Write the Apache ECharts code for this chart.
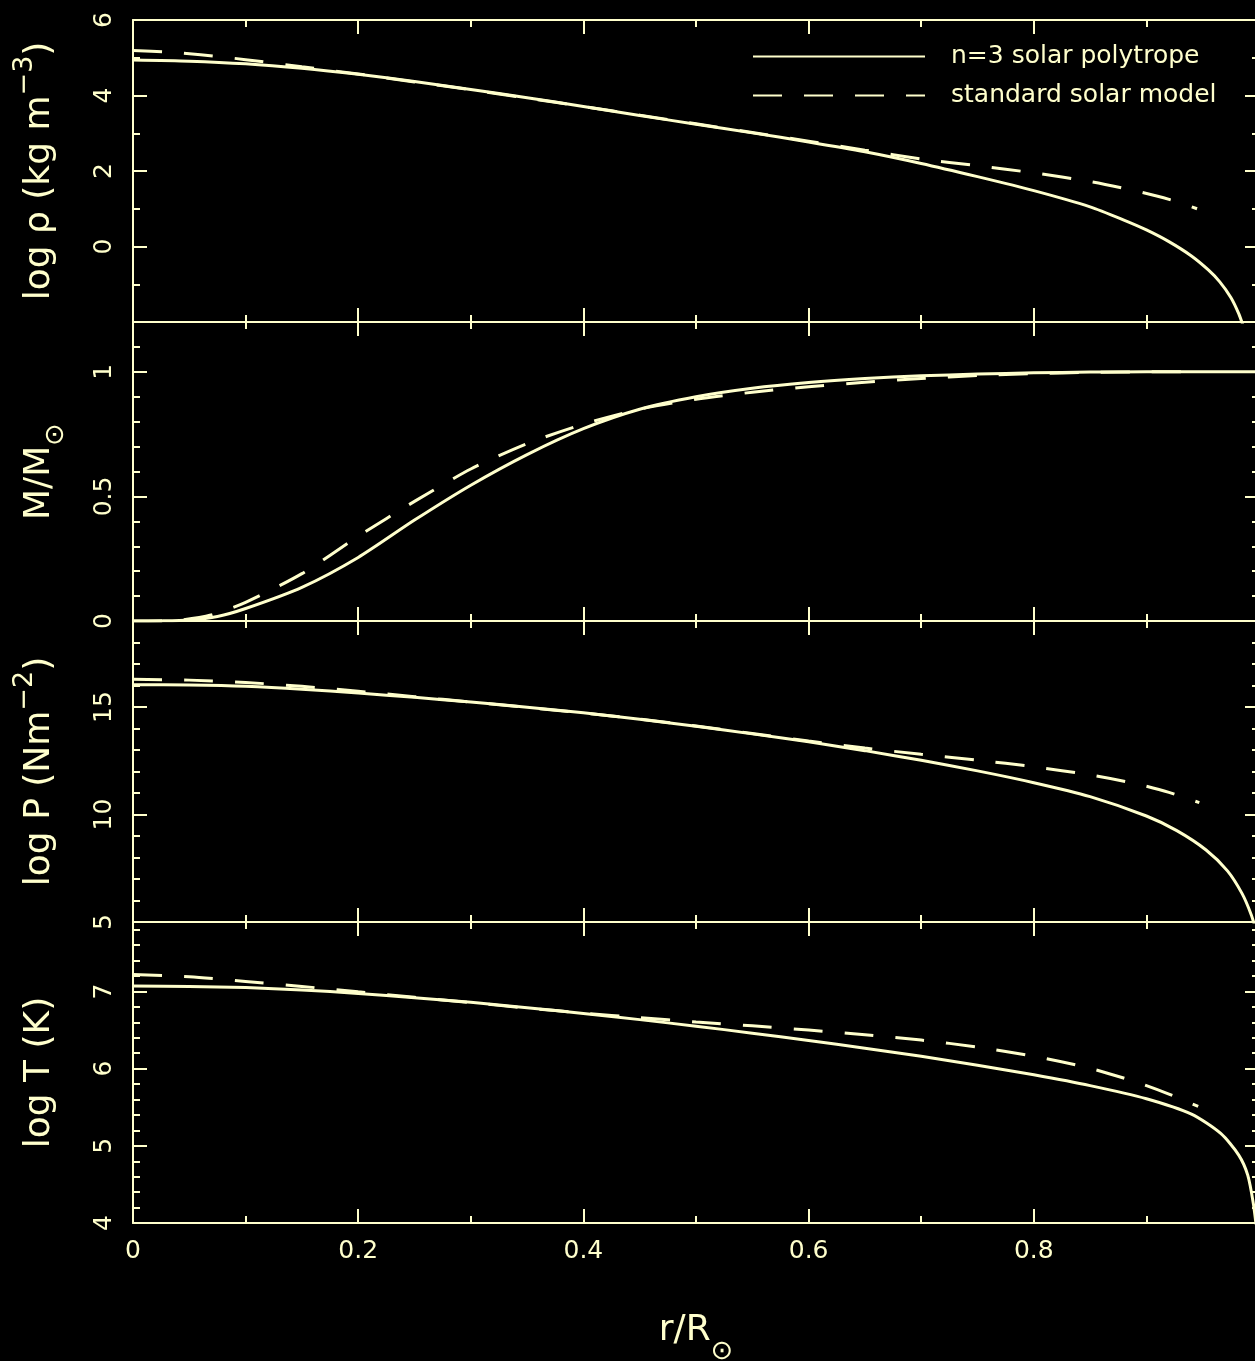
<!DOCTYPE html>
<html>
<head>
<meta charset="utf-8">
<script src="https://cdn.jsdelivr.net/npm/echarts@6/dist/echarts.min.js"></script>
<style>
html,body{margin:0;padding:0;background:#000;}
#chart{width:1255px;height:1361px;}
</style>
</head>
<body>
<div id="chart"></div>
<script>
// ---------- data ----------
const seriesNames = ['n=3 solar polytrope', 'standard solar model'];

// tick labels
const xTickLabels    = [0, 0.2, 0.4, 0.6, 0.8];
const rhoTickLabels  = [0, 2, 4, 6];
const massTickLabels = [0, 0.5, 1];
const presTickLabels = [5, 10, 15];
const tempTickLabels = [4, 5, 6, 7];

// log density (kg m^-3)
const rhoPolyR = [0, 0.05, 0.1, 0.15, 0.2, 0.25, 0.3, 0.35, 0.4, 0.45, 0.5, 0.55, 0.6, 0.65, 0.7, 0.75, 0.8, 0.85, 0.88, 0.9, 0.92, 0.94, 0.955, 0.965, 0.975, 0.982, 0.987];
const rhoPolyV = [4.94, 4.91, 4.84, 4.72, 4.56, 4.37, 4.16, 3.94, 3.71, 3.47, 3.24, 3.01, 2.77, 2.51, 2.20, 1.85, 1.48, 1.05, 0.70, 0.44, 0.13, -0.25, -0.62, -0.93, -1.35, -1.78, -2.2];
const rhoSsmR = [0, 0.03, 0.06, 0.1, 0.15, 0.2, 0.25, 0.3, 0.35, 0.4, 0.45, 0.5, 0.55, 0.6, 0.65, 0.7, 0.75, 0.8, 0.85, 0.885, 0.91, 0.93, 0.945];
const rhoSsmV = [5.19, 5.15, 5.08, 4.95, 4.76, 4.57, 4.36, 4.15, 3.93, 3.71, 3.48, 3.25, 3.02, 2.79, 2.55, 2.32, 2.14, 1.95, 1.72, 1.51, 1.33, 1.16, 1.00];

// M / Msun
const massPolyR = [0, 0.025, 0.05, 0.075, 0.1, 0.15, 0.2, 0.25, 0.3, 0.35, 0.4, 0.45, 0.5, 0.55, 0.6, 0.65, 0.7, 0.75, 0.8, 0.85, 0.9, 0.95, 1.0];
const massPolyV = [0, 0.0005, 0.004, 0.018, 0.05, 0.135, 0.255, 0.405, 0.545, 0.668, 0.772, 0.850, 0.900, 0.934, 0.957, 0.973, 0.984, 0.991, 0.996, 0.999, 1.0, 1.0, 1.0];
const massSsmR = [0, 0.04, 0.07, 0.1, 0.15, 0.2, 0.25, 0.3, 0.35, 0.4, 0.45, 0.5, 0.55, 0.6, 0.65, 0.7, 0.75, 0.8, 0.85, 0.9, 0.945];
const massSsmV = [0, 0.003, 0.025, 0.075, 0.19, 0.34, 0.48, 0.61, 0.712, 0.79, 0.85, 0.89, 0.918, 0.94, 0.958, 0.973, 0.985, 0.993, 0.998, 1.0, 1.0];

// log pressure (N m^-2)
const presPolyR = [0, 0.05, 0.1, 0.15, 0.2, 0.25, 0.3, 0.35, 0.4, 0.45, 0.5, 0.55, 0.6, 0.65, 0.7, 0.75, 0.8, 0.85, 0.9, 0.927, 0.953, 0.972, 0.985, 0.993, 0.998];
const presPolyV = [16.04, 16.02, 15.96, 15.83, 15.65, 15.45, 15.23, 14.99, 14.73, 14.43, 14.10, 13.75, 13.38, 12.97, 12.52, 12.03, 11.48, 10.83, 9.93, 9.25, 8.35, 7.38, 6.32, 5.35, 4.5];
const presSsmR = [0, 0.05, 0.1, 0.15, 0.2, 0.25, 0.3, 0.35, 0.4, 0.45, 0.5, 0.55, 0.6, 0.65, 0.7, 0.75, 0.8, 0.85, 0.89, 0.92, 0.947];
const presSsmV = [16.29, 16.25, 16.14, 15.96, 15.73, 15.48, 15.23, 14.98, 14.72, 14.44, 14.12, 13.77, 13.42, 13.09, 12.80, 12.53, 12.22, 11.84, 11.44, 11.03, 10.55];

// log temperature (K)
const tempPolyR = [0, 0.05, 0.1, 0.15, 0.2, 0.25, 0.3, 0.35, 0.4, 0.45, 0.5, 0.55, 0.6, 0.65, 0.7, 0.75, 0.8, 0.85, 0.9, 0.94, 0.966, 0.982, 0.99, 0.995, 0.998];
const tempPolyV = [7.07, 7.065, 7.05, 7.02, 6.975, 6.92, 6.86, 6.79, 6.715, 6.635, 6.55, 6.46, 6.365, 6.265, 6.16, 6.045, 5.92, 5.78, 5.61, 5.41, 5.16, 4.88, 4.62, 4.25, 3.9];
const tempSsmR = [0, 0.05, 0.1, 0.15, 0.2, 0.25, 0.3, 0.35, 0.4, 0.45, 0.5, 0.55, 0.6, 0.65, 0.7, 0.75, 0.8, 0.85, 0.89, 0.92, 0.946];
const tempSsmV = [7.22, 7.19, 7.13, 7.065, 6.995, 6.925, 6.855, 6.785, 6.72, 6.66, 6.605, 6.555, 6.50, 6.44, 6.37, 6.28, 6.16, 6.005, 5.83, 5.67, 5.51];

// ---------- styling / layout ----------
const FG = '#ffffcc';
const FONT = 'DejaVu Sans';
const pairs = (xs, ys) => xs.map((x, i) => [x, ys[i]]);

const panels = [
  { top: 20,  height: 302, min: -2, max: 6,   interval: 2,   minor: 2, labels: rhoTickLabels,
    name: '{a|log ρ (kg m}{sup|−3}{a|)}', gap: 65,
    poly: pairs(rhoPolyR, rhoPolyV), ssm: pairs(rhoSsmR, rhoSsmV) },
  { top: 322, height: 299, min: 0,  max: 1.2, interval: 0.5, minor: 5, labels: massTickLabels,
    name: '{a|M/M}{sub|⊙}', gap: 33,
    poly: pairs(massPolyR, massPolyV), ssm: pairs(massSsmR, massSsmV) },
  { top: 621, height: 301, min: 5,  max: 19,  interval: 5,   minor: 5, labels: presTickLabels,
    name: '{a|log P (Nm}{sup|−2}{a|)}', gap: 65,
    poly: pairs(presPolyR, presPolyV), ssm: pairs(presSsmR, presSsmV) },
  { top: 922, height: 301, min: 4,  max: 7.9, interval: 1,   minor: 5, labels: tempTickLabels,
    name: '{a|log T (K)}', gap: 65,
    poly: pairs(tempPolyR, tempPolyV), ssm: pairs(tempSsmR, tempSsmV) }
];

const lineCol = { color: FG, width: 2 };
const nameRich = {
  a:   { fontFamily: FONT, fontSize: 36, color: FG, height: 56, verticalAlign: 'top' },
  sup: { fontFamily: FONT, fontSize: 27, color: FG, height: 26, verticalAlign: 'top' },
  sub: { fontFamily: FONT, fontSize: 27, color: FG, height: 88, verticalAlign: 'top' }
};

const grids = [], xAxes = [], yAxes = [], series = [];
panels.forEach((p, i) => {
  grids.push({ left: 133, width: 1126, top: p.top, height: p.height, containLabel: false, outerBoundsMode: 'none' });
  const last = i === panels.length - 1;
  ['bottom', 'top'].forEach(pos => {
    const showLab = last && pos === 'bottom';
    const ax = {
      type: 'value', gridIndex: i, position: pos, min: 0, max: 1, interval: 0.2,
      axisLine: { show: true, onZero: false, lineStyle: lineCol },
      axisTick: { show: true, inside: true, length: 14, lineStyle: lineCol },
      minorTick: { show: true, splitNumber: 2, length: 7, lineStyle: lineCol },
      splitLine: { show: false }, minorSplitLine: { show: false },
      axisLabel: {
        show: showLab, color: FG, fontFamily: FONT, fontSize: 25, margin: 16,
        formatter: v => xTickLabels.some(l => Math.abs(l - v) < 1e-9) ? String(v) : ''
      }
    };
    if (showLab) {
      ax.name = '{a|r/R}{sub|⊙}';
      ax.nameLocation = 'middle';
      ax.nameGap = 88;
      ax.nameTextStyle = {
        color: FG, fontFamily: FONT, fontSize: 36,
        rich: {
          a:   { fontFamily: FONT, fontSize: 36, color: FG, height: 40, verticalAlign: 'top' },
          sub: { fontFamily: FONT, fontSize: 27, color: FG, height: 82, verticalAlign: 'top' }
        }
      };
    }
    xAxes.push(ax);
  });
  ['left', 'right'].forEach(pos => {
    const ay = {
      type: 'value', gridIndex: i, position: pos, min: p.min, max: p.max, interval: p.interval,
      axisLine: { show: true, onZero: false, lineStyle: lineCol },
      axisTick: { show: true, inside: true, length: 14, lineStyle: lineCol },
      minorTick: { show: true, splitNumber: p.minor, length: 7, lineStyle: lineCol },
      splitLine: { show: false }, minorSplitLine: { show: false },
      axisLabel: {
        show: pos === 'left', rotate: 90, color: FG, fontFamily: FONT, fontSize: 25, margin: 16,
        formatter: v => p.labels.some(l => Math.abs(l - v) < 1e-9) ? String(v) : ''
      }
    };
    if (pos === 'left') {
      ay.name = p.name;
      ay.nameLocation = 'middle';
      ay.nameRotate = 90;
      ay.nameGap = p.gap;
      ay.nameTextStyle = { color: FG, fontFamily: FONT, fontSize: 36, rich: nameRich };
    }
    yAxes.push(ay);
  });
  const common = {
    type: 'line', xAxisIndex: 2 * i, yAxisIndex: 2 * i, symbol: 'none', showSymbol: false,
    smooth: 0.25, clip: true, animation: false, silent: true
  };
  series.push(Object.assign({}, common, {
    name: seriesNames[0], data: p.poly,
    lineStyle: { color: FG, width: 3, type: 'solid' }, itemStyle: { color: FG, opacity: 0 }
  }));
  series.push(Object.assign({}, common, {
    name: seriesNames[1], data: p.ssm,
    lineStyle: { color: FG, width: 3, type: [29, 22] }, itemStyle: { color: FG, opacity: 0 }
  }));
});

const chart = echarts.init(document.getElementById('chart'), null, { renderer: 'canvas' });
chart.setOption({
  backgroundColor: '#000',
  animation: false,
  grid: grids,
  xAxis: xAxes,
  yAxis: yAxes,
  legend: {
    show: true, orient: 'vertical', left: 747, top: 39,
    itemWidth: 172, itemHeight: 14, itemGap: 14, selectedMode: false,
    data: seriesNames,
    itemStyle: { opacity: 0 },
    textStyle: { color: FG, fontFamily: FONT, fontSize: 25, padding: [0, 0, 0, 21] }
  },
  series: series
});
</script>
</body>
</html>
